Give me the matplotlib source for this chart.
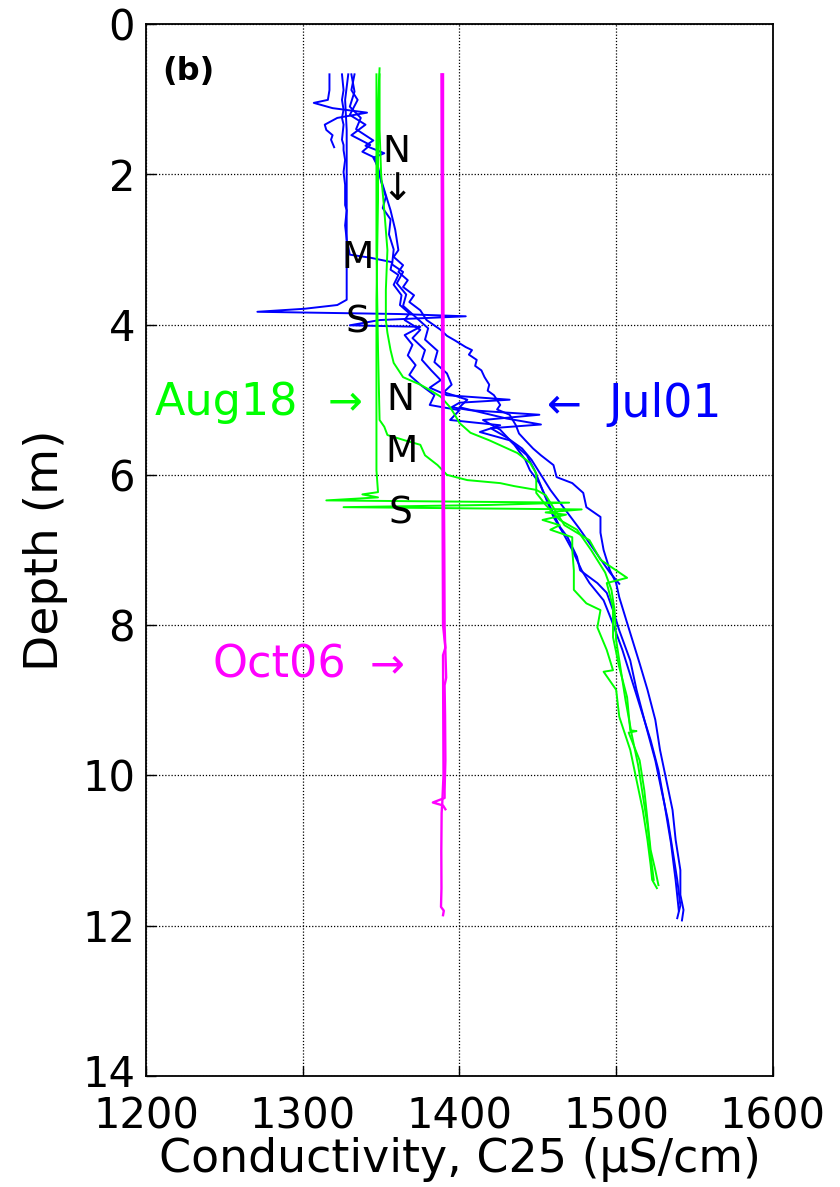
import matplotlib
matplotlib.use("Agg")
import matplotlib.pyplot as plt
import matplotlib.transforms as mtransforms

# Jul01 casts (blue)
jul_n_depth = [0.67,0.88,1.01,1.21,1.34,1.48,1.61,1.70,1.78,1.94,2.21,2.48,2.74,3.01,3.10,3.21,3.30,3.41,3.50,3.61,
               3.70,3.81,3.94,4.07,4.15,4.21,4.30,4.34,4.40,4.47,4.55,4.61,4.70,4.80,4.88,4.94,5.07,5.13,5.20,5.34,
               5.45,5.54,5.65,5.74,5.87,6.03,6.11,6.24,6.43,6.56,6.77,7.00,7.27,7.44,7.63,7.97,8.24,8.51,8.86,9.26,
               9.66,10.06,10.46,10.86,11.26,11.59,11.79,11.93]
jul_n_cond = [1333,1331,1335,1330,1340,1331,1343,1338,1346,1348,1352,1356,1359,1361,1358,1364,1361,1367,1364,1371,
              1368,1375,1379,1388,1392,1397,1404,1408,1406,1411,1410,1414,1416,1419,1418,1422,1426,1424,1432,1436,
              1438,1442,1447,1452,1460,1462,1472,1479,1481,1490,1490,1492,1496,1500,1502,1507,1511,1515,1520,1525,
              1528,1532,1536,1538,1541,1541,1543,1542]

jul_m_depth = [0.67,0.88,1.01,1.14,1.25,1.34,1.54,1.61,1.68,1.81,1.97,2.14,2.38,2.41,2.48,2.68,2.87,3.07,3.11,3.17,
               3.27,3.34,3.47,3.61,3.74,3.85,3.94,4.07,4.18,4.34,4.47,4.61,4.74,4.84,4.94,5.00,5.04,5.10,5.14,5.20,
               5.27,5.40,5.60,5.80,5.94,6.11,6.43,6.69,6.83,7.09,7.27,7.44,7.57,7.80,8.07,8.47,8.86,9.26,9.80,10.20,
               10.59,10.99,11.39,11.73,11.90]
jul_m_cond = [1325,1326,1325,1326,1325,1326,1325,1326,1326,1327,1326,1327,1327,1327,1328,1327,1328,1330,1343,1357,
              1356,1361,1358,1363,1362,1368,1365,1375,1370,1378,1376,1382,1388,1381,1392,1432,1400,1395,1407,1451,
              1415,1426,1435,1442,1445,1451,1458,1464,1469,1475,1477,1488,1494,1498,1502,1509,1513,1518,1525,1529,
              1533,1536,1539,1541,1539]

jul_s_depth = [0.67,1.01,1.41,1.81,2.34,2.87,3.41,3.67,3.74,3.79,3.83,3.86,3.89,3.94,4.01,4.03,4.14,4.27,4.41,4.54,
               4.67,4.80,4.94,5.07,5.14,5.27,5.34,5.43,5.54,5.74,5.94,6.20,6.56,6.77,7.00,7.27,7.44,7.67,7.93,8.33,
               8.73,9.13,9.53,9.93,10.4,10.9,11.4,11.8]
jul_s_cond = [1329,1327,1328,1328,1328,1328,1328,1328,1322,1301,1271,1362,1404,1349,1330,1375,1365,1370,1367,1372,
              1368,1375,1384,1381,1400,1394,1426,1413,1432,1443,1448,1453,1460,1466,1472,1478,1483,1492,1497,1504,
              1510,1516,1522,1527,1531,1535,1538,1540]

jul_a_depth = [0.67,0.90,1.10,1.25,1.40,1.55,1.62,1.72,1.78,1.90,2.10,2.30,2.45,2.60,2.80,3.00,3.20,3.30,3.45,3.60,
               3.75,3.90,4.05,4.20,4.35,4.50,4.65,4.80,4.90,5.00,5.10,5.25,5.33,5.38,5.50,5.65,5.80,6.00,6.20,6.45,
               6.70,7.00,7.30,7.45]
jul_a_cond = [1331,1333,1330,1337,1334,1345,1340,1352,1345,1348,1350,1353,1351,1356,1355,1358,1357,1364,1360,1366,
              1364,1372,1380,1378,1386,1384,1392,1395,1390,1405,1400,1430,1452,1420,1430,1440,1446,1452,1458,1467,
              1476,1486,1496,1502]

jul_b_depth = [0.67,0.88,1.01,1.05,1.12,1.18,1.25,1.34,1.41,1.48,1.54,1.64]
jul_b_cond = [1317,1317,1316,1307,1319,1341,1322,1314,1315,1319,1318,1320]

# Aug18 casts (green)
aug_s_depth = [0.59,1.01,2.34,3.67,5.00,5.94,6.23,6.26,6.30,6.34,6.37,6.40,6.43,6.46,6.50,6.53,6.60,6.67,6.73,6.83,
               7.00,7.27,7.53,7.71,7.80,8.03,8.33,8.60,8.62,8.86,9.22,9.66,10.06,10.46,10.86,11.19,11.39,11.50]
aug_s_cond = [1349,1348,1348,1347,1347,1347,1348,1338,1348,1315,1470,1420,1326,1478,1455,1468,1453,1464,1458,1472,
              1472,1473,1473,1481,1490,1488,1494,1498,1492,1500,1502,1509,1513,1517,1520,1522,1523,1526]

aug_n_depth = [0.67,1.68,3.01,4.34,5.27,5.36,5.47,5.54,5.60,5.74,5.87,6.00,6.07,6.11,6.15,6.20,6.27,6.47,6.67,6.87,
               7.13,7.37,7.44,7.76,8.16,8.56,8.96,9.40,9.41,9.43,9.80,10.20,10.59,10.99,11.26,11.46]
aug_n_cond = [1347,1347,1347,1348,1349,1352,1354,1365,1375,1378,1386,1392,1405,1426,1435,1449,1455,1461,1467,1483,
              1490,1507,1494,1498,1498,1502,1507,1509,1513,1508,1515,1518,1520,1522,1525,1527]

aug_m_depth = [0.67,1.41,2.01,2.48,3.01,3.54,3.94,4.11,4.34,4.51,4.70,4.80,4.87,4.96,5.10,5.20,5.31,5.44,5.54,5.71,
               5.84,5.98,6.24,6.40,6.60,6.73,7.00,7.30,7.53,7.80,8.20,8.60,9.00,9.46,9.86,10.26,10.66,11.06,11.39]
aug_m_cond = [1349,1349,1350,1352,1354,1353,1353,1354,1356,1358,1364,1375,1381,1388,1394,1397,1400,1407,1419,1437,
              1445,1449,1449,1455,1464,1475,1484,1493,1497,1499,1500,1503,1506,1510,1514,1517,1520,1522,1524]

# Oct06 casts (magenta)
oct_a_depth = [0.67,2.0,4.0,6.0,7.0,8.0,8.7,8.8,9.2,9.8,10.2,10.30,10.36,10.40,10.45]
oct_a_cond = [1389.5,1389.5,1389.8,1390,1390.3,1390.5,1391.5,1390.5,1390.8,1391,1390.5,1390.5,1383,1389.5,1391]
oct_b_depth = [0.67,1.5,3.0,5.0,7.0,8.0,8.3,8.4,9.0,10.0,10.37,10.5,11.0,11.5,11.75,11.80,11.86]
oct_b_cond = [1388.5,1388.6,1388.8,1389,1389.3,1389.5,1391,1389.5,1389.6,1389.8,1389,1388.6,1388.4,1388.5,1388.2,1390,1389.5]

blue = '#0000ff'
green = '#00ff00'
magenta = '#ff00ff'

fig = plt.figure(figsize=(8.4, 11.87), dpi=100)
ax = fig.add_axes([0.174, 0.0935, 0.746, 0.8863])

for d, c in [(jul_n_depth, jul_n_cond), (jul_m_depth, jul_m_cond), (jul_s_depth, jul_s_cond),
             (jul_a_depth, jul_a_cond), (jul_b_depth, jul_b_cond)]:
    ax.plot(c, d, color=blue, lw=1.4)
for d, c in [(aug_s_depth, aug_s_cond), (aug_n_depth, aug_n_cond), (aug_m_depth, aug_m_cond)]:
    ax.plot(c, d, color=green, lw=1.4)
for d, c in [(oct_a_depth, oct_a_cond), (oct_b_depth, oct_b_cond)]:
    ax.plot(c, d, color=magenta, lw=1.7)

ax.set_xlim(1200, 1600)
ax.set_ylim(14, 0)
ax.set_xticks([1200, 1300, 1400, 1500, 1600])
ax.set_yticks(range(0, 15, 2))
ax.grid(True, color='k', linestyle=(0, (1, 1.5)), lw=0.9)
ax.tick_params(direction='in', length=7, width=1, labelsize=30)
ax.tick_params(axis='y', pad=8)
ax.tick_params(axis='x', pad=14)
for s in ax.spines.values():
    s.set_linewidth(1.3)
ax.set_xlabel('Conductivity, C25 (μS/cm)', fontsize=33, labelpad=0)
ax.set_ylabel('Depth (m)', fontsize=34, labelpad=10)

# nudge the bottom depth label up so it clears the 1200 label
last = ax.get_yticklabels()[-1]
last.set_transform(last.get_transform() + mtransforms.ScaledTranslation(0, 6 / 100, fig.dpi_scale_trans))

ax.text(0.025, 0.955, '(b)', transform=ax.transAxes, fontsize=23, fontweight='bold', va='center')

lab = dict(fontsize=27, ha='center', va='center')
ax.text(1360, 1.70, 'N', **lab)
ax.text(1360, 2.21, '↓', **lab)
ax.text(1335, 3.11, 'M', **lab)
ax.text(1335, 3.97, 'S', **lab)
ax.text(1362, 5.00, 'N', **lab)
ax.text(1363, 5.70, 'M', **lab)
ax.text(1362, 6.52, 'S', **lab)

ax.text(1251, 5.04, 'Aug18', color=green, fontsize=32, ha='center', va='center')
ax.text(1327, 5.04, '→', color=green, fontsize=30, ha='center', va='center')
ax.text(1467, 5.07, '←', color=blue, fontsize=30, ha='center', va='center')
ax.text(1531, 5.07, 'Jul01', color=blue, fontsize=33, ha='center', va='center')
ax.text(1285, 8.53, 'Oct06', color=magenta, fontsize=32, ha='center', va='center')
ax.text(1354, 8.53, '→', color=magenta, fontsize=30, ha='center', va='center')

fig.savefig('out.png', dpi=100)
